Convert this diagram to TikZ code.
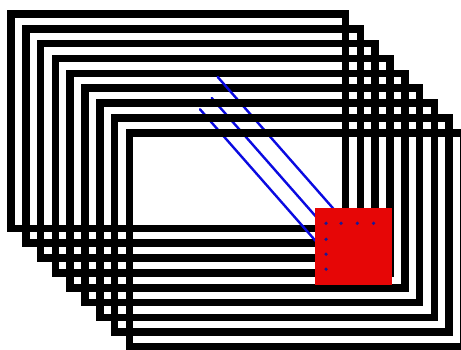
\documentclass[tikz,border=0pt]{standalone}
\definecolor{sqred}{RGB}{230,6,6}
\definecolor{rayblue}{RGB}{10,10,225}
\definecolor{dotblue}{RGB}{25,25,150}
\begin{document}
\begin{tikzpicture}[x=1pt,y=-1pt,
  frame/.style={draw=black,line width=7.6pt,line join=miter},
  ray/.style={draw=rayblue,line width=2.4pt,line cap=round},
  sq/.style={fill=sqred},
  dotmark/.style={fill=dotblue}]
\clip (0,0) rectangle (461,350);
\fill[white] (0,0) rectangle (461,350);
% back frames
\foreach \i in {0,...,5}{
  \draw[frame] ({11+14.8*\i},{14+14.85*\i}) rectangle ({345.5+14.8*\i},{228.5+14.8*\i});
}
% blue rays
\coordinate (r1s) at (217.7,77);   \coordinate (r1e) at (340,216.2);
\coordinate (r2s) at (211.7,98);   \coordinate (r2e) at (330,232.6);
\coordinate (r3s) at (200,109.3);  \coordinate (r3e) at (325,251.6);
\draw[ray] (r1s) -- (r1e);
\draw[ray] (r2s) -- (r2e);
\draw[ray] (r3s) -- (r3e);
% front frames
\foreach \i in {6,...,8}{
  \draw[frame] ({11+14.8*\i},{14+14.85*\i}) rectangle ({345.5+14.8*\i},{228.5+14.8*\i});
}
% red square
\fill[sq] (315,208.3) rectangle (391.7,285);
% dots
\foreach \x/\y in {326/223.3,341/223.3,357.3/223.3,373.5/223.3,326/239.3,326/254.2,326/269.2}{
  \fill[dotmark] (\x,\y) circle (1.8);
}
\end{tikzpicture}
\end{document}
